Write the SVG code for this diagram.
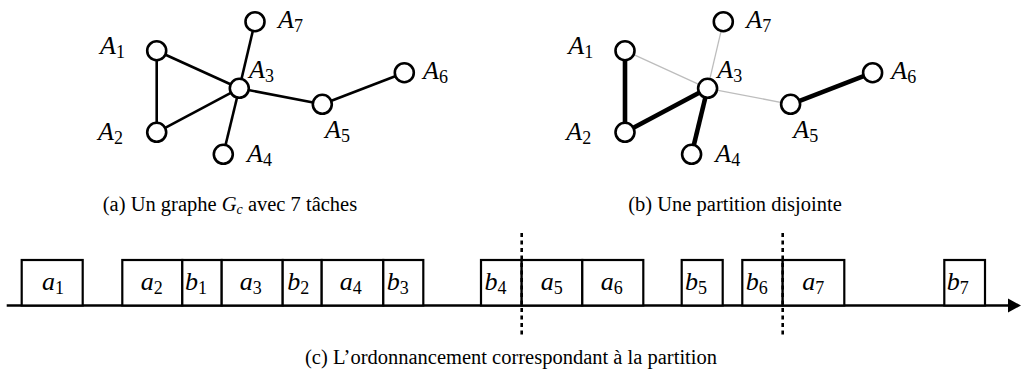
<svg xmlns="http://www.w3.org/2000/svg" width="1021" height="385" viewBox="0 0 1021 385">
<style>
.lbl{font-family:"Liberation Serif","Times New Roman",Times,"DejaVu Serif",serif;font-style:italic;font-size:26px;fill:#000}
.sub{font-size:18px;font-style:normal}
.cap{font-family:"Liberation Serif","Times New Roman",Times,"DejaVu Serif",serif;font-size:20.5px;fill:#000}
.node{fill:#fff;stroke:#000;stroke-width:2.6}
.e{stroke:#000;stroke-width:2.6;fill:none}
.thick{stroke:#000;stroke-width:4.6;fill:none}
.light{stroke:#bdbdbd;stroke-width:1.3;fill:none}
.box{fill:#fff;stroke:#000;stroke-width:2.2}
.dash{stroke:#000;stroke-width:2.6;stroke-dasharray:4 3.5;fill:none}
</style>
<rect width="1021" height="385" fill="#fff"/>

<!-- Graph (a) -->
<g id="edges-a">
<line class="e" x1="156.7" y1="50.7" x2="156.7" y2="132.3"/>
<line class="e" x1="156.7" y1="50.7" x2="239.3" y2="88.3"/>
<line class="e" x1="156.7" y1="132.3" x2="239.3" y2="88.3"/>
<line class="e" x1="239.3" y1="88.3" x2="255" y2="21.7"/>
<line class="e" x1="239.3" y1="88.3" x2="223.3" y2="154.3"/>
<line class="e" x1="239.3" y1="88.3" x2="322.3" y2="104.3"/>
<line class="e" x1="322.3" y1="104.3" x2="404.3" y2="72.7"/>
</g>
<g id="a-A1"><circle class="node" cx="156.7" cy="50.7" r="9.5"/><text class="lbl" x="100" y="54">A<tspan class="sub" dy="4">1</tspan></text></g>
<g id="a-A2"><circle class="node" cx="156.7" cy="132.3" r="9.5"/><text class="lbl" x="98" y="140">A<tspan class="sub" dy="4">2</tspan></text></g>
<g id="a-A3"><circle class="node" cx="239.3" cy="88.3" r="9.5"/><text class="lbl" x="249" y="78">A<tspan class="sub" dy="4">3</tspan></text></g>
<g id="a-A4"><circle class="node" cx="223.3" cy="154.3" r="9.5"/><text class="lbl" x="247" y="162">A<tspan class="sub" dy="4">4</tspan></text></g>
<g id="a-A5"><circle class="node" cx="322.3" cy="104.3" r="9.5"/><text class="lbl" x="325" y="138">A<tspan class="sub" dy="4">5</tspan></text></g>
<g id="a-A6"><circle class="node" cx="404.3" cy="72.7" r="9.5"/><text class="lbl" x="423" y="79">A<tspan class="sub" dy="4">6</tspan></text></g>
<g id="a-A7"><circle class="node" cx="255" cy="21.7" r="9.5"/><text class="lbl" x="278" y="28">A<tspan class="sub" dy="4">7</tspan></text></g>

<!-- Graph (b) -->
<g id="edges-b">
<line class="light" x1="625" y1="50.7" x2="707.6" y2="88.3"/>
<line class="light" x1="707.6" y1="88.3" x2="723.3" y2="21.7"/>
<line class="light" x1="707.6" y1="88.3" x2="790.6" y2="104.3"/>
<line class="thick" x1="625" y1="50.7" x2="625" y2="132.3"/>
<line class="thick" x1="625" y1="132.3" x2="707.6" y2="88.3"/>
<line class="thick" x1="707.6" y1="88.3" x2="691.6" y2="154.3"/>
<line class="thick" x1="790.6" y1="104.3" x2="872.6" y2="72.7"/>
</g>
<g id="b-A1"><circle class="node" cx="625" cy="50.7" r="9.5"/><text class="lbl" x="568.3" y="54">A<tspan class="sub" dy="4">1</tspan></text></g>
<g id="b-A2"><circle class="node" cx="625" cy="132.3" r="9.5"/><text class="lbl" x="566.3" y="140">A<tspan class="sub" dy="4">2</tspan></text></g>
<g id="b-A3"><circle class="node" cx="707.6" cy="88.3" r="9.5"/><text class="lbl" x="717.3" y="78">A<tspan class="sub" dy="4">3</tspan></text></g>
<g id="b-A4"><circle class="node" cx="691.6" cy="154.3" r="9.5"/><text class="lbl" x="715.3" y="162">A<tspan class="sub" dy="4">4</tspan></text></g>
<g id="b-A5"><circle class="node" cx="790.6" cy="104.3" r="9.5"/><text class="lbl" x="793.3" y="138">A<tspan class="sub" dy="4">5</tspan></text></g>
<g id="b-A6"><circle class="node" cx="872.6" cy="72.7" r="9.5"/><text class="lbl" x="891.3" y="79">A<tspan class="sub" dy="4">6</tspan></text></g>
<g id="b-A7"><circle class="node" cx="723.3" cy="21.7" r="9.5"/><text class="lbl" x="746.3" y="28">A<tspan class="sub" dy="4">7</tspan></text></g>

<!-- Captions -->
<text class="cap" x="230" y="211" text-anchor="middle">(a) Un graphe <tspan font-style="italic">G</tspan><tspan font-style="italic" font-size="14" dy="3">c</tspan><tspan dy="-3"> avec 7 tâches</tspan></text>
<text class="cap" x="735" y="211" text-anchor="middle">(b) Une partition disjointe</text>
<text class="cap" x="511" y="364" text-anchor="middle">(c) L’ordonnancement correspondant à la partition</text>

<!-- Timeline -->
<g id="axis">
<line x1="6.7" y1="305.5" x2="1010" y2="305.5" stroke="#000" stroke-width="2.6"/>
<polygon points="1008,298.5 1021,305.5 1008,312.5" fill="#000"/>
</g>
<g id="task-a1"><rect class="box" x="21.7" y="260" width="61" height="45.5"/><text class="lbl" x="42" y="290">a<tspan class="sub" dy="4">1</tspan></text></g>
<g id="task-a2"><rect class="box" x="122.3" y="260" width="60" height="45.5"/><text class="lbl" x="140.7" y="290">a<tspan class="sub" dy="4">2</tspan></text></g>
<g id="task-b1"><rect class="box" x="182.3" y="260" width="39.4" height="45.5"/><text class="lbl" x="185" y="290">b<tspan class="sub" dy="4">1</tspan></text></g>
<g id="task-a3"><rect class="box" x="221.7" y="260" width="61" height="45.5"/><text class="lbl" x="239.7" y="290">a<tspan class="sub" dy="4">3</tspan></text></g>
<g id="task-b2"><rect class="box" x="282.7" y="260" width="39" height="45.5"/><text class="lbl" x="287.3" y="290">b<tspan class="sub" dy="4">2</tspan></text></g>
<g id="task-a4"><rect class="box" x="321.7" y="260" width="61.6" height="45.5"/><text class="lbl" x="339.7" y="290">a<tspan class="sub" dy="4">4</tspan></text></g>
<g id="task-b3"><rect class="box" x="383.3" y="260" width="40" height="45.5"/><text class="lbl" x="386.7" y="290">b<tspan class="sub" dy="4">3</tspan></text></g>
<g id="task-b4"><rect class="box" x="481" y="260" width="40.7" height="45.5"/><text class="lbl" x="484.5" y="290">b<tspan class="sub" dy="4">4</tspan></text></g>
<g id="task-a5"><rect class="box" x="521.7" y="260" width="60.6" height="45.5"/><text class="lbl" x="540.7" y="290">a<tspan class="sub" dy="4">5</tspan></text></g>
<g id="task-a6"><rect class="box" x="582.3" y="260" width="61" height="45.5"/><text class="lbl" x="600.7" y="290">a<tspan class="sub" dy="4">6</tspan></text></g>
<g id="task-b5"><rect class="box" x="681.7" y="260" width="41" height="45.5"/><text class="lbl" x="685" y="290">b<tspan class="sub" dy="4">5</tspan></text></g>
<g id="task-b6"><rect class="box" x="742.3" y="260" width="40.4" height="45.5"/><text class="lbl" x="745.8" y="290">b<tspan class="sub" dy="4">6</tspan></text></g>
<g id="task-a7"><rect class="box" x="782.7" y="260" width="61.6" height="45.5"/><text class="lbl" x="802.3" y="290">a<tspan class="sub" dy="4">7</tspan></text></g>
<g id="task-b7"><rect class="box" x="944.3" y="260" width="40.7" height="45.5"/><text class="lbl" x="946.7" y="290">b<tspan class="sub" dy="4">7</tspan></text></g>
<g id="cuts">
<line class="dash" x1="521.7" y1="233" x2="521.7" y2="336"/>
<line class="dash" x1="782.7" y1="233" x2="782.7" y2="336"/>
</g>
</svg>
